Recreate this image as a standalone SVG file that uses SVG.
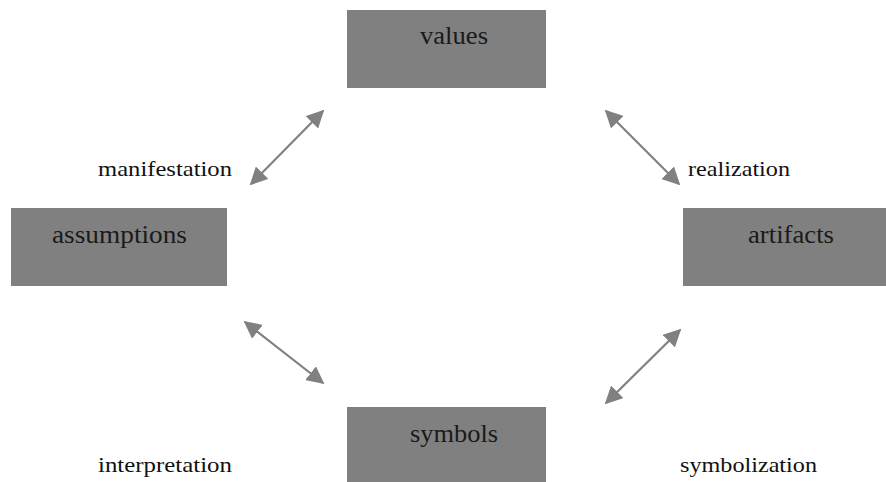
<svg xmlns="http://www.w3.org/2000/svg" width="886" height="482" viewBox="0 0 886 482">
<style>
.box{fill:#808080}
.nt{font-family:"Liberation Serif","DejaVu Serif",serif;font-size:25px;fill:#1a1a1a;text-anchor:middle}
.lb{font-family:"Liberation Serif","DejaVu Serif",serif;font-size:21px;fill:#111}
.ar{stroke:#808080;stroke-width:2.2;fill:none;marker-start:url(#ah);marker-end:url(#ah)}
</style>
<defs>
<marker id="ah" viewBox="0 0 10 10" refX="9" refY="5" markerWidth="8" markerHeight="8" orient="auto-start-reverse" markerUnits="strokeWidth">
<path d="M0,0 L10,5 L0,10 Z" fill="#808080"/>
</marker>
</defs>
<rect width="886" height="482" fill="#fff"/>
<g id="values"><rect class="box" x="347" y="10" width="199" height="78"/><text class="nt" x="454" y="44" textLength="68" lengthAdjust="spacingAndGlyphs">values</text></g>
<g id="assumptions"><rect class="box" x="11" y="208" width="216" height="78"/><text class="nt" x="119.5" y="243" textLength="135" lengthAdjust="spacingAndGlyphs">assumptions</text></g>
<g id="artifacts"><rect class="box" x="683" y="208" width="203" height="78"/><text class="nt" x="791" y="243" textLength="86" lengthAdjust="spacingAndGlyphs">artifacts</text></g>
<g id="symbols"><rect class="box" x="347" y="407" width="199" height="75"/><text class="nt" x="454" y="442" textLength="88" lengthAdjust="spacingAndGlyphs">symbols</text></g>
<g id="connectors">
<line class="ar" x1="251" y1="184" x2="323" y2="111"/>
<line class="ar" x1="606" y1="111" x2="679" y2="184"/>
<line class="ar" x1="245" y1="322" x2="323" y2="383"/>
<line class="ar" x1="606" y1="403" x2="680" y2="330"/>
</g>
<g id="labels">
<text class="lb" x="98" y="176" textLength="134" lengthAdjust="spacingAndGlyphs">manifestation</text>
<text class="lb" x="688" y="176" textLength="102" lengthAdjust="spacingAndGlyphs">realization</text>
<text class="lb" x="98" y="472" textLength="134" lengthAdjust="spacingAndGlyphs">interpretation</text>
<text class="lb" x="680" y="472" textLength="137" lengthAdjust="spacingAndGlyphs">symbolization</text>
</g>
</svg>
